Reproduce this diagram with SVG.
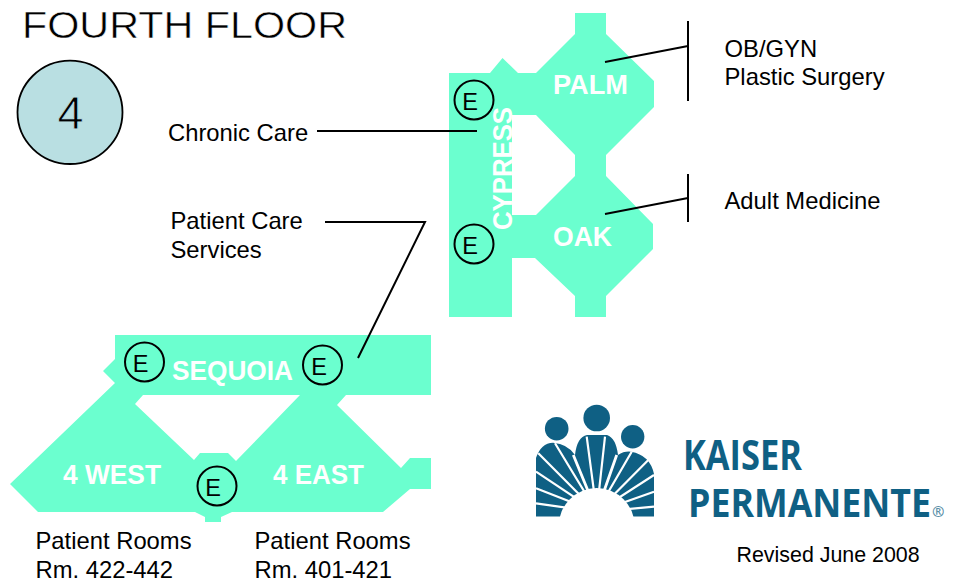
<svg xmlns="http://www.w3.org/2000/svg" width="965" height="583" viewBox="0 0 965 583">
<style>
.plan{fill:#6bffcf;fill-rule:evenodd}
.t{font-family:"Liberation Sans",Arial,sans-serif;fill:#000}
.lbl{font-size:23.800px}
.w{font-family:"Liberation Sans",Arial,sans-serif;font-weight:bold;font-size:27px;fill:#fff}
.e circle{fill:none;stroke:#000;stroke-width:2}
.e text{font-family:"Liberation Sans",Arial,sans-serif;font-size:23.500px;text-anchor:middle;fill:#000}
.ln{fill:none;stroke:#000;stroke-width:2}
.logo{fill:#0f6084}
.ray{stroke:#fff;stroke-width:2.200;fill:none}
.lt{font-family:"Open Sans",sans-serif;fill:#0f6084;font-weight:700}
</style>
<rect width="965" height="583" fill="#fff"/>
<g id="title"><text class="t" x="22" y="37.500" font-size="36" textLength="325" lengthAdjust="spacingAndGlyphs" stroke="#fff" stroke-width=".5">FOURTH FLOOR</text></g>
<g id="floor-badge"><ellipse cx="70" cy="112.300" rx="52.500" ry="51.700" fill="#b9dfe2" stroke="#000" stroke-width="1.800"/><text class="t" x="70.500" y="129" font-size="47" text-anchor="middle" stroke="#b9dfe2" stroke-width=".9">4</text></g>
<g id="upper-wing">
<path class="plan" d="M449 73H490L502.500 58L518 73H536L575 34V13H606V34L654 81V107L606 155V176L653 224V249L606 296V317H575V296L535 258H512V317H449ZM512 115V215H536L575 176V155L536 115Z"/>
</g>
<g id="lower-wing">
<path class="plan" d="M115 335H431V395H346L337 405L401 468L410 458H431V489H410L383 512H232L221 517V522H205V517L195 512H38L10 484L115 383L103 371L115 359ZM143 395L135 404L194 460L200 453H228L236 461L300 395Z"/>
</g>
<g id="connectors">
<path class="ln" d="M317 131H477"/>
<path class="ln" d="M325 222H425L358 358"/>
<path class="ln" d="M605 62L688 46M688 21V101"/>
<path class="ln" d="M605 214L688 198M688 174V222"/>
</g>
<g id="palm"><text class="w" x="553" y="94" textLength="75" lengthAdjust="spacingAndGlyphs">PALM</text></g>
<g id="oak"><text class="w" x="553" y="246" textLength="59" lengthAdjust="spacingAndGlyphs">OAK</text></g>
<g id="cypress"><text class="w" style="font-size:28px" transform="translate(512 230) rotate(-90)" textLength="123" lengthAdjust="spacingAndGlyphs">CYPRESS</text></g>
<g id="sequoia"><text class="w" x="172" y="380" textLength="121" lengthAdjust="spacingAndGlyphs">SEQUOIA</text></g>
<g id="west"><text class="w" x="63" y="484" textLength="98" lengthAdjust="spacingAndGlyphs">4 WEST</text></g>
<g id="east"><text class="w" x="273" y="484" textLength="91" lengthAdjust="spacingAndGlyphs">4 EAST</text></g>
<g id="elevator-1" class="e"><circle cx="474" cy="100" r="19.500"/><text x="470" y="110">E</text></g>
<g id="elevator-2" class="e"><circle cx="474" cy="244" r="19.500"/><text x="470" y="254">E</text></g>
<g id="elevator-3" class="e"><circle cx="144.500" cy="362" r="19.500"/><text x="140.500" y="372">E</text></g>
<g id="elevator-4" class="e"><circle cx="322.500" cy="365" r="19.500"/><text x="319" y="375">E</text></g>
<g id="elevator-5" class="e"><circle cx="217" cy="486" r="19.500"/><text x="213" y="496">E</text></g>
<g id="label-chronic"><text class="t lbl" x="168" y="141">Chronic Care</text></g>
<g id="label-pcs"><text class="t lbl" x="170.500" y="229">Patient Care</text><text class="t lbl" x="170.500" y="258">Services</text></g>
<g id="label-palm"><text class="t lbl" x="724.500" y="57">OB/GYN</text><text class="t lbl" x="724.500" y="85">Plastic Surgery</text></g>
<g id="label-oak"><text class="t lbl" x="724.500" y="209">Adult Medicine</text></g>
<g id="label-west"><text class="t lbl" x="35.500" y="549">Patient Rooms</text><text class="t lbl" x="35.500" y="578">Rm. 422-442</text></g>
<g id="label-east"><text class="t lbl" x="254.500" y="549">Patient Rooms</text><text class="t lbl" x="254.500" y="578">Rm. 401-421</text></g>
<g id="revised"><text class="t" x="736.500" y="562" font-size="21.400">Revised June 2008</text></g>
<g id="logo">
<circle class="logo" cx="556.700" cy="428.700" r="11.800"/>
<circle class="logo" cx="596.700" cy="418" r="13.300"/>
<circle class="logo" cx="632.700" cy="436.700" r="11.700"/>
<path class="logo" d="M536 516.500V458Q541 443 553 442.700Q568 444 575 455Q577 437 587 435H607Q616 438 618 455Q624 451 631 451.700Q650 455 654 474V516.500Z"/>
<circle cx="596.700" cy="526" r="38" fill="#fff"/>
<path class="ray" d="M596.700 512L538.300 453.300M596.700 512L555 443.300M596.700 512L536 471.700M596.700 512L536 488.300M596.700 512L536 503.300M596.700 512L586.700 436.700M596.700 512L605 436.700M596.700 512L631.700 451.700M596.700 512L648.300 460M596.700 512L654 475M596.700 512L654 491.700M596.700 512L654 506.700"/>
<path class="ray" style="stroke-width:2.800" d="M596.700 512L573.300 455M596.700 512L616.700 455"/>
<text class="lt" x="683" y="470" font-size="42" textLength="119" lengthAdjust="spacingAndGlyphs">KAISER</text>
<text class="lt" x="688" y="516.500" font-size="40" textLength="243" lengthAdjust="spacingAndGlyphs">PERMANENTE</text>
<text class="lt" x="932" y="517" font-size="15" fill-opacity=".7">®</text>
</g>
</svg>
